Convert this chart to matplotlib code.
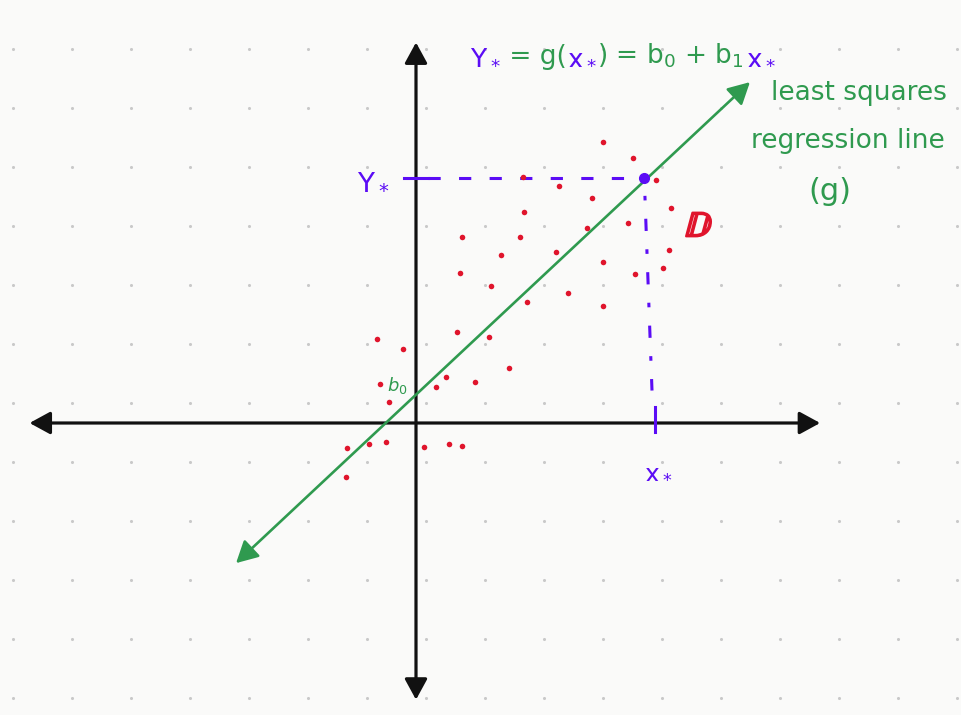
import numpy as np
import matplotlib.pyplot as plt
import matplotlib.patheffects as pe
from matplotlib.offsetbox import TextArea, HPacker, AnnotationBbox

# everything in "grid units": origin at the axes crossing, 1 unit = one dot spacing
green = '#2f9a4f'
blue = '#5b0cf5'
red = '#e0142c'
black = '#111111'

# regression line  y = b0 + b1 * x
b0 = 0.48
b1 = 0.936
line_x = [-3.05, 5.66]

# scattered observations (red)
pts_x = [3.17, 3.68, 1.81, 2.42, 4.07, 2.98, 1.83, 4.32, 3.59, 2.90,
         0.78, 1.76, 1.44, 2.37, 4.29, 3.17, 0.75, 3.71, 4.19, 1.27,
         2.58, 1.88, 3.17, 0.69, 1.24, -0.66, -0.22, 1.58, 0.51, 1.00,
         -0.61, 0.34, -0.46, -1.17, -0.80, -0.51, 0.14, 0.56, 0.78, -1.19]
pts_y = [4.76, 4.49, 4.17, 4.02, 4.12, 3.81, 3.58, 3.64, 3.39, 3.31,
         3.15, 3.15, 2.85, 2.90, 2.93, 2.73, 2.54, 2.53, 2.63, 2.32,
         2.20, 2.05, 1.98, 1.54, 1.46, 1.42, 1.25, 0.93, 0.78, 0.69,
         0.66, 0.61, 0.36, -0.42, -0.36, -0.32, -0.41, -0.36, -0.39, -0.92]

# the highlighted prediction
x_star = 3.86
y_star = 4.15

fig = plt.figure(figsize=(9.62, 7.15), dpi=100)
fig.patch.set_facecolor('#fafaf9')
ax = fig.add_axes([0, 0, 1, 1])
ax.set_facecolor('#fafaf9')
ax.set_xlim(-416 / 59, (962 - 416) / 59)
ax.set_ylim(-(715 - 423) / 59, 423 / 59)
ax.axis('off')

# dot paper background
gx, gy = np.meshgrid(np.arange(-6.83, 9.3, 1.0), np.arange(6.34, -5.0, -1.0))
ax.scatter(gx.ravel(), gy.ravel(), s=5, color='#c9c9c9', lw=0, zorder=0)

# axes with arrows
arr = dict(arrowstyle='<|-|>,head_length=0.55,head_width=0.3', color=black,
           lw=2.3, mutation_scale=23, shrinkA=0, shrinkB=0)
ax.annotate('', xy=(0, 6.45), xytext=(0, -4.69), arrowprops=arr)
ax.annotate('', xy=(6.85, 0), xytext=(-6.55, 0), arrowprops=arr)

# regression line
ly = [b0 + b1 * v for v in line_x]
garr = dict(arrowstyle='<|-|>,head_length=0.6,head_width=0.32', color=green,
            lw=1.9, mutation_scale=22, shrinkA=0, shrinkB=0)
ax.annotate('', xy=(line_x[1], ly[1]), xytext=(line_x[0], ly[0]), arrowprops=garr, zorder=3)

ax.plot(pts_x, pts_y, 'o', color=red, ms=4, mew=0, zorder=4)

# prediction guides
ax.plot([-0.2, 0.2], [y_star, y_star], color=blue, lw=2.2, zorder=3)
ax.plot([0.2, x_star - 0.08], [y_star, y_star], color=blue, lw=2.2,
        ls=(0, (4, 6)), zorder=3)
ax.plot([x_star + 0.02, 4.0], [y_star - 0.3, 0.55], color=blue, lw=2.2,
        ls=(0, (1.5, 6, 4, 6)), zorder=3)
ax.plot([4.05, 4.05], [0.27, -0.16], color=blue, lw=2.2, zorder=3)
ax.plot([x_star], [y_star], 'o', color=blue, ms=7, zorder=5)

ax.text(-0.72, 4.1, 'Y$_*$', color=blue, fontsize=20, ha='center', va='center')
ax.text(4.1, -0.82, 'x$_*$', color=blue, fontsize=18, ha='center', va='center')
ax.text(-0.32, 0.64, '$b_0$', color=green, fontsize=13, ha='center', va='center')
ax.text(4.8, 3.33, r'$\mathbb{D}$', color=red, fontsize=26, ha='center', va='center',
        path_effects=[pe.withStroke(linewidth=1.6, foreground=red)])

ax.text(7.5, 5.6, 'least squares', color=green, fontsize=19, ha='center', va='center')
ax.text(7.32, 4.78, 'regression line', color=green, fontsize=19, ha='center', va='center')
ax.text(7.02, 3.92, '(g)', color=green, fontsize=22, ha='center', va='center')

# formula across the top, mixed colours
parts = [('Y$_*$', blue), (' = g(', green), ('x$_*$', blue),
         (') = b$_0$ + b$_1$ ', green), ('x$_*$', blue)]
boxes = [TextArea(s, textprops=dict(color=c, fontsize=19)) for s, c in parts]
pack = HPacker(children=boxes, pad=0, sep=0, align='baseline')
ab = AnnotationBbox(pack, (0.92, 6.22), box_alignment=(0, 0.5), frameon=False,
                    xycoords='data')
ax.add_artist(ab)

fig.savefig('out.png', dpi=100, facecolor=fig.get_facecolor())
